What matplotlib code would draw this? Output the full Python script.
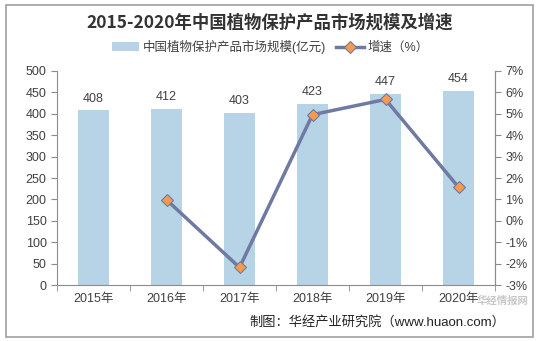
import matplotlib.pyplot as plt
from matplotlib.patches import Rectangle
from matplotlib.ticker import FuncFormatter, FixedLocator

plt.rcParams['font.family'] = ['Liberation Sans', 'Noto Sans CJK SC', 'DejaVu Sans']

years = ['2015年', '2016年', '2017年', '2018年', '2019年', '2020年']
market = [408, 412, 403, 423, 447, 454]
growth_years = [1, 2, 3, 4, 5]
growth = [0.98, -2.18, 4.96, 5.67, 1.57]

bar_color = '#B7D3E6'
line_color = '#6F7AA3'
text_color = '#404040'
axis_color = '#8C8C8C'

fig = plt.figure(figsize=(5.4, 3.41), dpi=100)
fig.patches.append(Rectangle((0.011, 0.012), 0.976, 0.974, transform=fig.transFigure,
                             fill=False, edgecolor='#A0A0A0', linewidth=1.2))

ax = fig.add_axes([0.1056, 0.1642, 0.8111, 0.6276])
x = list(range(len(years)))
bars = ax.bar(x, market, width=0.42, color=bar_color, label='中国植物保护产品市场规模(亿元)', zorder=2)
for xi, v in zip(x, market):
    ax.text(xi, v + 13, str(v), ha='center', va='bottom', fontsize=9, color=text_color)

ax.set_xlim(-0.5, 5.5)
ax.set_ylim(0, 500)
ax.set_yticks(range(0, 501, 50))
ax.set_xticks(x)
ax.set_xticklabels(years)
ax.xaxis.set_minor_locator(FixedLocator([i + 0.5 for i in range(-1, 6)]))
ax.tick_params(axis='x', which='major', length=0, labelsize=9, colors=text_color, pad=6)
ax.tick_params(axis='x', which='minor', length=4, color=axis_color)
ax.tick_params(axis='y', length=4, labelsize=9, colors=text_color, color=axis_color)
ax.spines['top'].set_visible(False)
for s in ['left', 'bottom', 'right']:
    ax.spines[s].set_color(axis_color)

ax2 = ax.twinx()
line, = ax2.plot(growth_years, growth, color=line_color, linewidth=2.5, marker='D', markersize=6,
                 markerfacecolor='#F79A50', markeredgecolor=line_color, markeredgewidth=0.8,
                 label='增速（%）', zorder=3)
ax2.set_ylim(-3, 7)
ax2.set_yticks(range(-3, 8))
ax2.yaxis.set_major_formatter(FuncFormatter(lambda v, p: f'{int(v)}%'))
ax2.tick_params(axis='y', length=4, labelsize=9, colors=text_color, color=axis_color)
for s in ['top', 'left', 'bottom']:
    ax2.spines[s].set_visible(False)
ax2.spines['right'].set_color(axis_color)

fig.text(0.5, 0.935, '2015-2020年中国植物保护产品市场规模及增速', ha='center', va='center',
         fontsize=12.5, fontweight='bold', color='#333333',
         family=['Noto Sans CJK SC', 'DejaVu Sans'])
fig.legend(handles=[bars, line], loc='center', bbox_to_anchor=(0.5, 0.862), ncol=2,
           frameon=False, fontsize=9, handlelength=2.2, columnspacing=0.8, handletextpad=0.3,
           labelcolor=text_color)

fig.text(0.935, 0.055, '制图：华经产业研究院（www.huaon.com）', ha='right', va='center',
         fontsize=9.5, color='#222222')
# faint watermark, kept clear of the tick labels
fig.text(0.978, 0.118, '华经情报网', ha='right', va='center', fontsize=7.5, fontweight='bold',
         color='#C8C8C8', zorder=0)

fig.savefig('out.png', dpi=100)
